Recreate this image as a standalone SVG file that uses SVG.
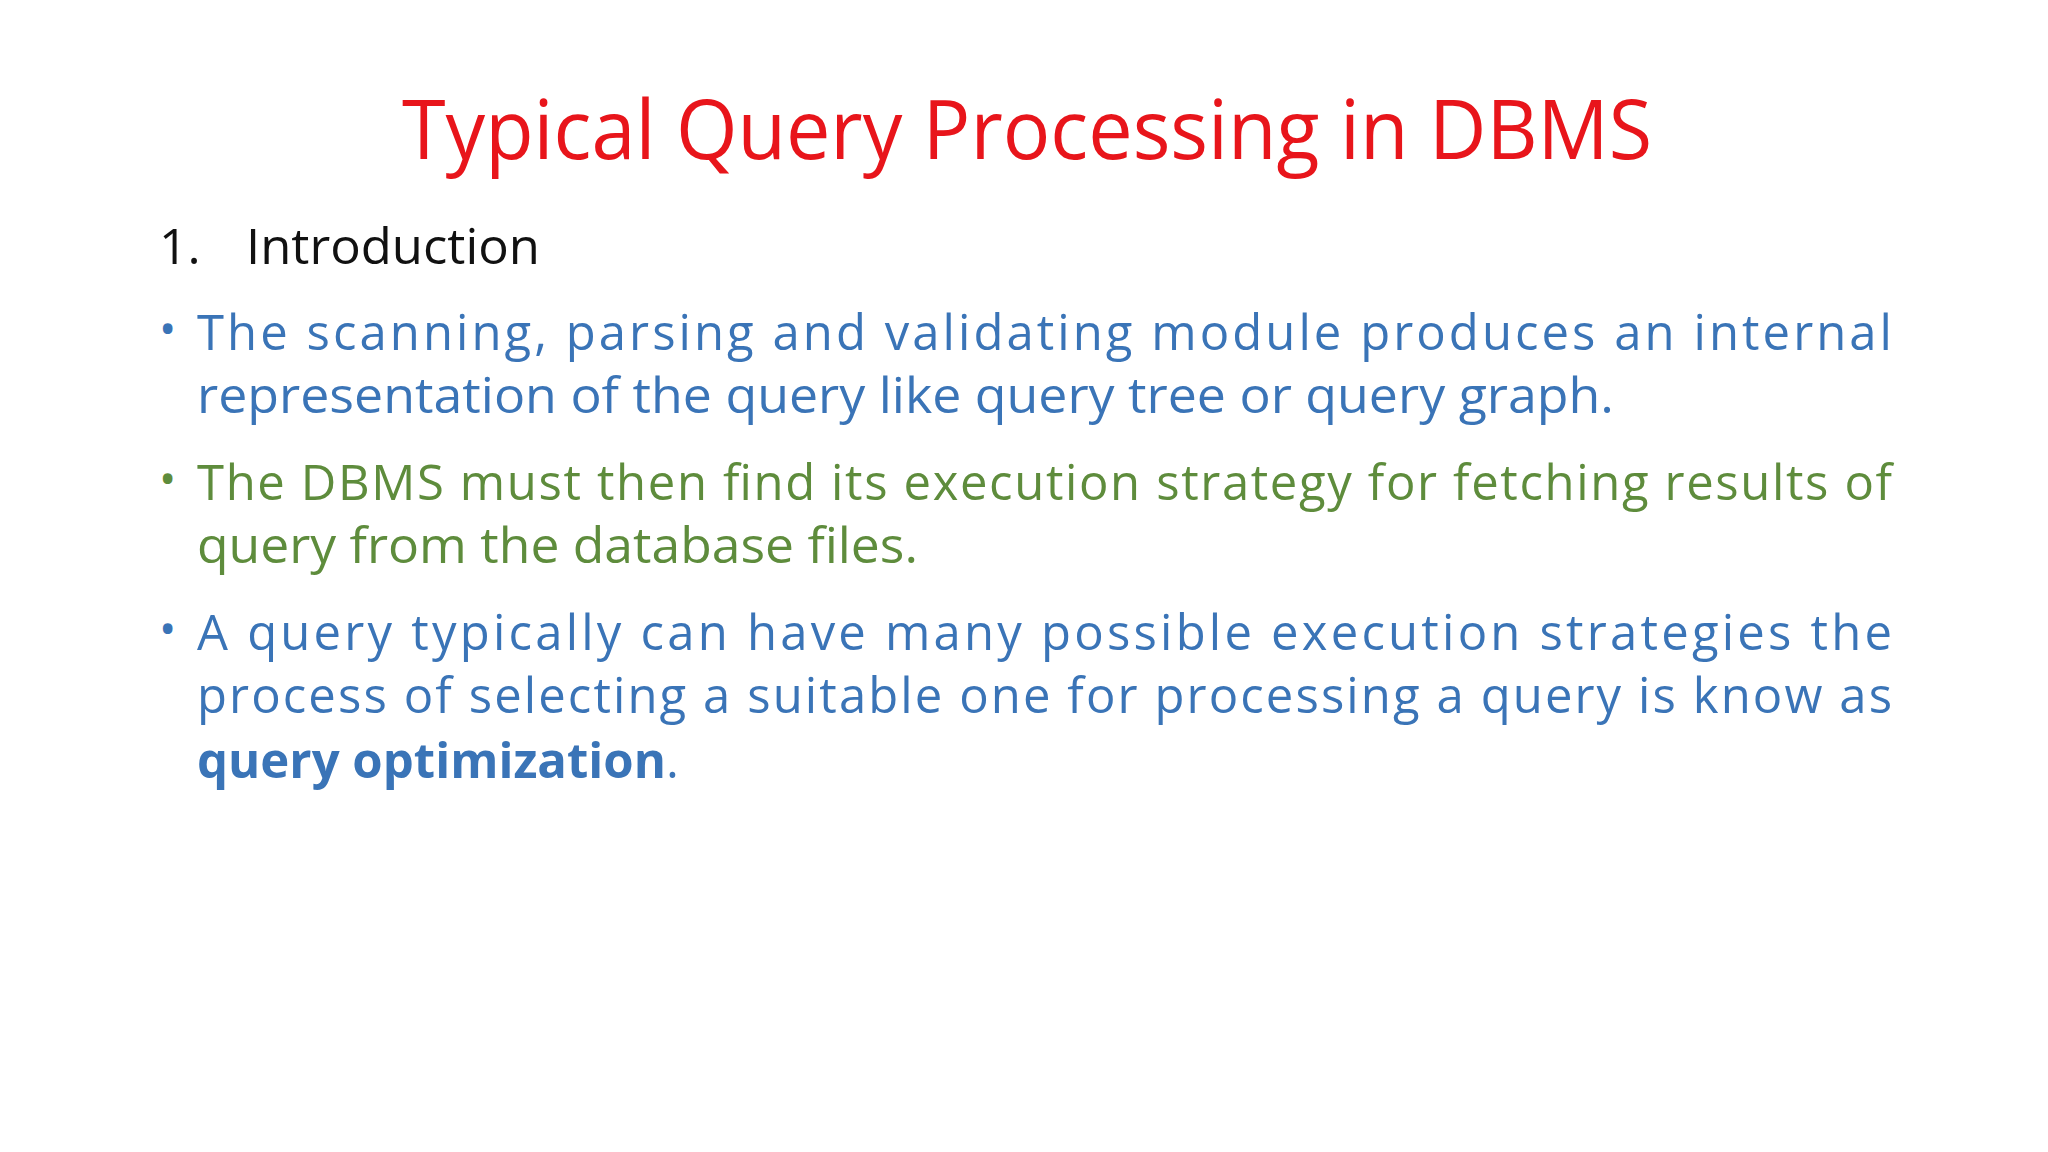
<svg xmlns="http://www.w3.org/2000/svg" width="2048" height="1152" viewBox="0 0 2048 1152">
<style>
text{font-family:"Open Sans","Liberation Sans",sans-serif}
.t{font-size:82px;fill:#E8151B}
.h{font-size:50px;fill:#111}
.b{font-size:49px;fill:#3A74B7}
.g{font-size:49px;fill:#5E8C3C}
.d{font-size:46px}
</style>
<rect width="2048" height="1152" fill="#fff"/>
<g id="title"><text class="t" x="402" y="159" textLength="1250" lengthAdjust="spacingAndGlyphs">Typical Query Processing in DBMS</text></g>
<g id="heading"><text class="h" x="159" y="264">1.</text><text class="h" x="246" y="264" textLength="294" lengthAdjust="spacingAndGlyphs">Introduction</text></g>
<g id="bullet1">
<text class="b d" x="159" y="345">•</text>
<text class="b" x="197" y="350" textLength="1695" lengthAdjust="spacing">The scanning, parsing and validating module produces an internal</text>
<text class="b" x="197" y="413" textLength="1417" lengthAdjust="spacingAndGlyphs">representation of the query like query tree or query graph.</text>
</g>
<g id="bullet2">
<text class="g d" x="159" y="495">•</text>
<text class="g" x="197" y="500" textLength="1695" lengthAdjust="spacing">The DBMS must then find its execution strategy for fetching results of</text>
<text class="g" x="197" y="563" textLength="721" lengthAdjust="spacingAndGlyphs">query from the database files.</text>
</g>
<g id="bullet3">
<text class="b d" x="159" y="645">•</text>
<text class="b" x="197" y="650" textLength="1695" lengthAdjust="spacing">A query typically can have many possible execution strategies the</text>
<text class="b" x="197" y="713" textLength="1695" lengthAdjust="spacing">process of selecting a suitable one for processing a query is know as</text>
<text class="b" x="197" y="778"><tspan font-weight="bold" textLength="469" lengthAdjust="spacingAndGlyphs">query optimization</tspan><tspan>.</tspan></text>
</g>
</svg>
